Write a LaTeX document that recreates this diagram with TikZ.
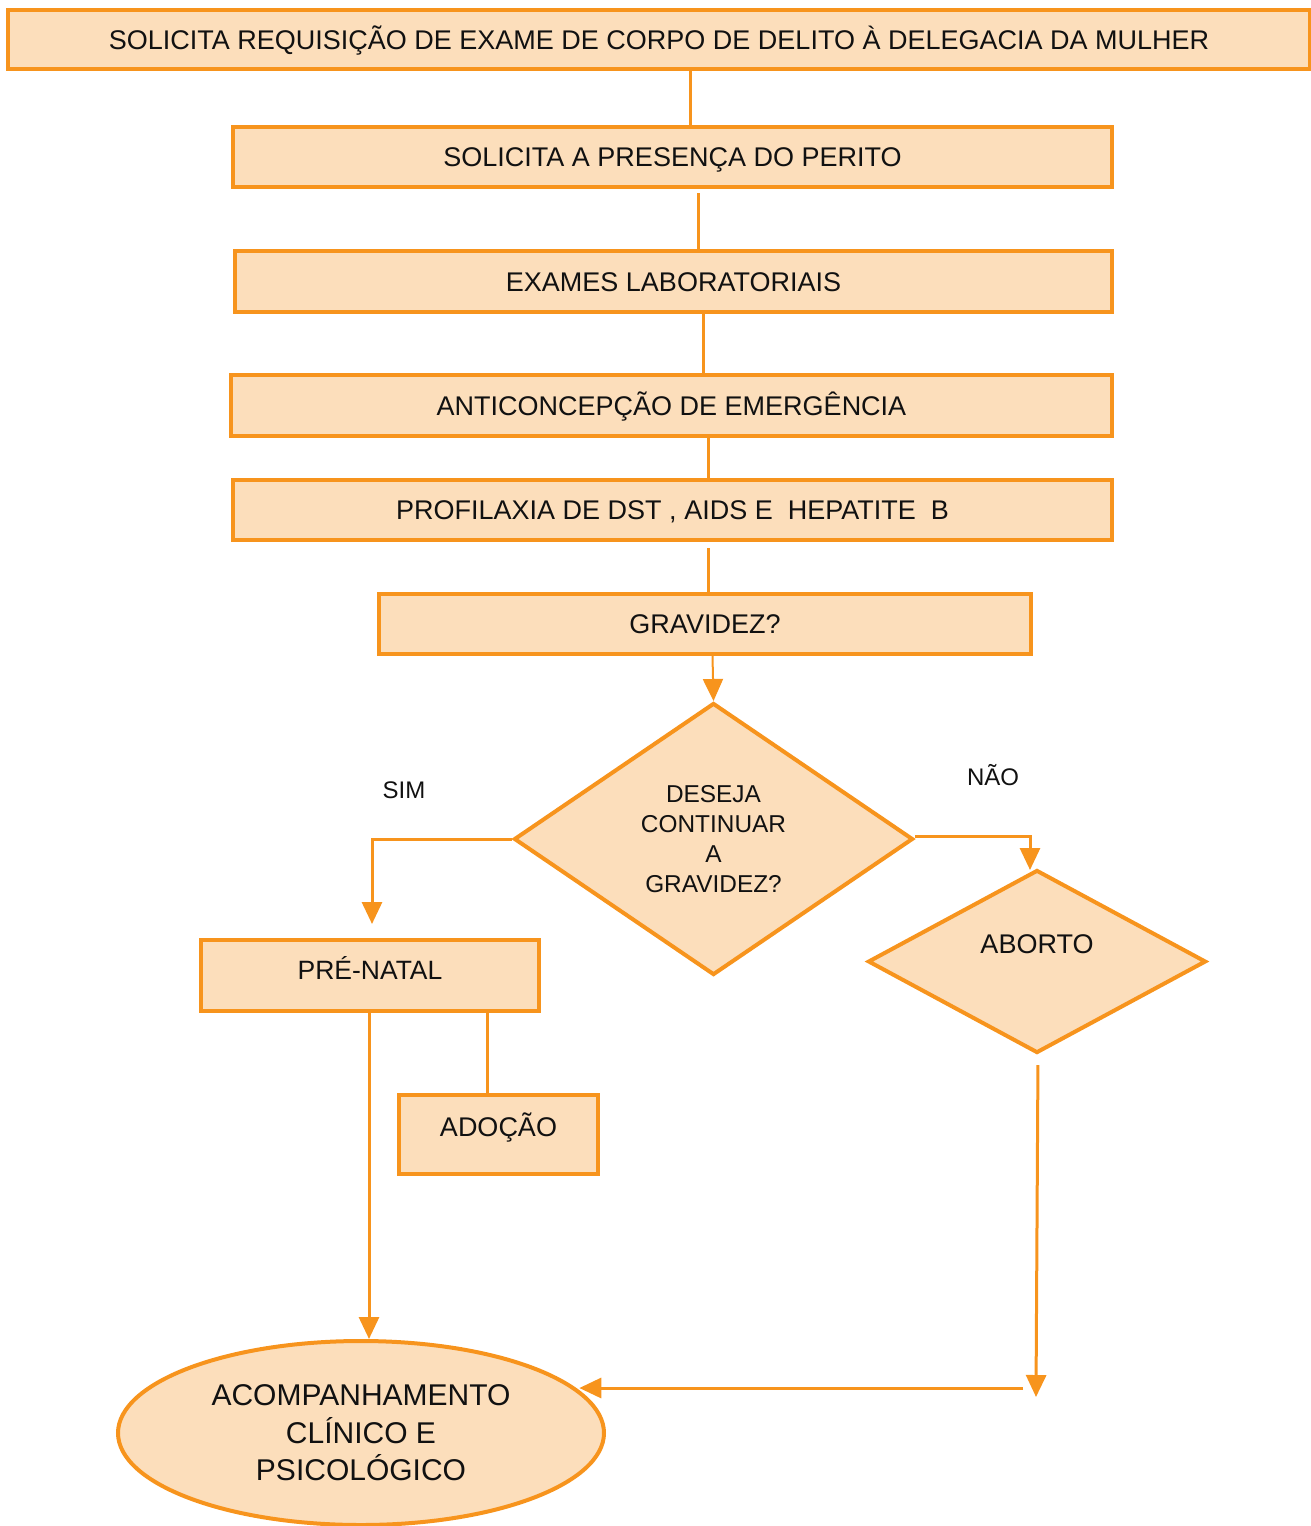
\documentclass[tikz,border=0pt]{standalone}
\usepackage{fontspec}
\setmainfont{Liberation Sans}
\usetikzlibrary{arrows.meta,shapes.geometric}
\definecolor{orng}{HTML}{F7941D}
\definecolor{peach}{HTML}{FCDEBB}
\definecolor{txt}{HTML}{111111}
\tikzset{
  box/.style={draw=orng, fill=peach, line width=4pt, inner sep=0pt, text=txt,
    font=\fontsize{27}{32}\selectfont, text height=19.3pt, text depth=0pt},
  dia/.style={diamond, draw=orng, fill=peach, line width=4pt, inner sep=0pt, text=txt},
  conn/.style={draw=orng, line width=3pt},
  arr/.style={conn, -{Triangle[width=20pt,length=22pt]}},
  lbl/.style={text=txt, font=\fontsize{24}{28}\selectfont, text height=17.2pt, text depth=0pt},
  inlbl/.style={text=txt, font=\fontsize{27}{32}\selectfont, text height=19.3pt, text depth=0pt}
}
\begin{document}
\begin{tikzpicture}[x=1pt,y=-1pt]
\useasboundingbox (0,0) rectangle (1311,1526);
\node[box, minimum width=1302, minimum height=59] (b1) at (659,39.5) {SOLICITA REQUISIÇÃO DE EXAME DE CORPO DE DELITO À DELEGACIA DA MULHER};
\node[box, minimum width=879, minimum height=60] (b2) at (672.5,157) {SOLICITA A PRESENÇA DO PERITO};
\node[box, minimum width=877, minimum height=61] (b3) at (673.5,281.5) {EXAMES LABORATORIAIS};
\node[box, minimum width=881, minimum height=61] (b4) at (671.5,405.5) {ANTICONCEPÇÃO DE EMERGÊNCIA};
\node[box, minimum width=879, minimum height=60] (b5) at (672.5,510) {PROFILAXIA DE DST , AIDS E\ \ HEPATITE\ \ B};
\node[box, minimum width=652, minimum height=60] (b6) at (705,624) {GRAVIDEZ?};

\node[dia, minimum width=399, minimum height=272, align=center,
  font=\fontsize{24.4}{30}\selectfont] (d1) at (713.5,839) {DESEJA\\CONTINUAR\\A\\GRAVIDEZ?};
\node[dia, minimum width=338, minimum height=183,
  label={[inlbl, yshift=17.5pt]center:ABORTO}] (d2) at (1037,961.5) {};

\node[box, minimum width=338, minimum height=71,
  label={[inlbl, font=\fontsize{26.5}{32}\selectfont, yshift=5.5pt]center:PRÉ-NATAL}] (pn) at (370,975.5) {};
\node[box, minimum width=199, minimum height=79,
  label={[inlbl, yshift=7.5pt]center:ADOÇÃO}] (ad) at (498.5,1134.5) {};

\node[ellipse, draw=orng, fill=peach, line width=4pt, inner sep=0pt, text=txt,
  minimum width=486, minimum height=184, align=center,
  font=\fontsize{30}{37.5}\selectfont] (el) at (361,1433) {ACOMPANHAMENTO\\CLÍNICO E\\PSICOLÓGICO};

\node[lbl] (sim) at (404,790) {SIM};
\node[lbl] (nao) at (993,777) {NÃO};

\coordinate (c1) at (1036,1397);
\coordinate (c2) at (1023,1388);

\draw[conn] ([xshift=31pt]b1.south) -- ([xshift=17.5pt]b2.north);
\draw[conn, shorten <=4pt] ([xshift=25.5pt]b2.south) -- ([xshift=24.5pt]b3.north);
\draw[conn] ([xshift=29.5pt]b3.south) -- ([xshift=31.5pt]b4.north);
\draw[conn] ([xshift=36.5pt]b4.south) -- ([xshift=35.5pt]b5.north);
\draw[conn, shorten <=6pt] ([xshift=35.5pt]b5.south) -- ([xshift=3pt]b6.north);
\draw[arr, line width=2pt] ([xshift=7.5pt]b6.south) -- (d1.north);

\draw[arr] (d1.west) -| ([xshift=2pt,yshift=14pt]pn.north);
\draw[arr] ([yshift=3pt]d1.east) -| ([xshift=-7pt,yshift=-2pt]d2.north);

\draw[arr] ([xshift=-1pt]pn.south) -- ([xshift=8pt]el.north);
\draw[conn] ([xshift=117pt]pn.south) -- ([xshift=-11.5pt]ad.north);

\draw[arr, shorten <=10pt] ([xshift=1pt]d2.south) -- (c1);
\draw[arr, shorten >=4pt] (c2) -- (c2 -| el.12);
\end{tikzpicture}
\end{document}
